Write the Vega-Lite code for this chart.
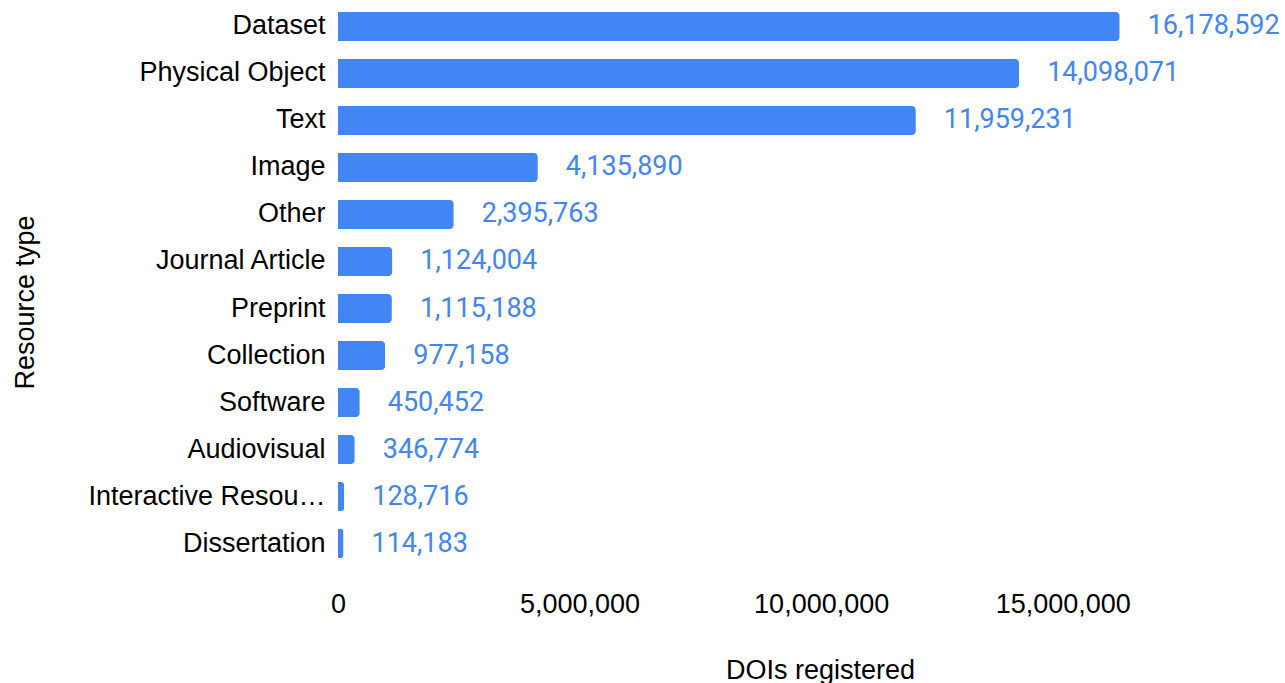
{
  "$schema": "https://vega.github.io/schema/vega-lite/v6.json",
  "autosize": {"type": "none"},
  "width": 918,
  "height": 570,
  "padding": {"left": 338, "top": 0, "right": 29, "bottom": 113},
  "background": "white",
  "config": {"view": {"stroke": null}},
  "data": {
    "values": [
      {"type": "Dataset", "dois": 16178592},
      {"type": "Physical Object", "dois": 14098071},
      {"type": "Text", "dois": 11959231},
      {"type": "Image", "dois": 4135890},
      {"type": "Other", "dois": 2395763},
      {"type": "Journal Article", "dois": 1124004},
      {"type": "Preprint", "dois": 1115188},
      {"type": "Collection", "dois": 977158},
      {"type": "Software", "dois": 450452},
      {"type": "Audiovisual", "dois": 346774},
      {"type": "Interactive Resource", "dois": 128716},
      {"type": "Dissertation", "dois": 114183}
    ]
  },
  "encoding": {
    "y": {
      "field": "type",
      "type": "nominal",
      "sort": null,
      "scale": {"paddingInner": 0.383, "paddingOuter": 0.255},
      "axis": {
        "title": "Resource type",
        "titleFont": "Liberation Sans",
        "titleFontSize": 27,
        "titleFontWeight": "normal",
        "titleColor": "#000000",
        "titleAngle": -90,
        "titleX": -305,
        "titleY": 302,
        "titleAlign": "center",
        "titleBaseline": "alphabetic",
        "labelFont": "Liberation Sans",
        "labelFontSize": 27,
        "labelColor": "#000000",
        "labelPadding": 13,
        "labelLimit": 245,
        "ticks": false,
        "domain": false,
        "grid": false
      }
    },
    "x": {
      "field": "dois",
      "type": "quantitative",
      "scale": {"domain": [0, 19000000]},
      "axis": {
        "title": "DOIs registered",
        "titleFont": "Liberation Sans",
        "titleFontSize": 27,
        "titleFontWeight": "normal",
        "titleColor": "#000000",
        "titleX": 482,
        "titleY": 108,
        "titleAlign": "center",
        "titleBaseline": "alphabetic",
        "values": [0, 5000000, 10000000, 15000000],
        "labelExpr": "format(datum.value, ',')",
        "labelFlush": false,
        "labelFont": "Liberation Sans",
        "labelFontSize": 27,
        "labelColor": "#000000",
        "labelPadding": 21,
        "ticks": false,
        "domain": false,
        "grid": false
      }
    }
  },
  "layer": [
    {"mark": {"type": "bar", "color": "#4285F4", "cornerRadiusEnd": 4}},
    {
      "mark": {"type": "text", "align": "left", "dx": 28, "font": "Roboto", "fontSize": 27, "color": "#4285F4"},
      "encoding": {"text": {"field": "dois", "type": "quantitative", "format": ","}}
    }
  ]
}
